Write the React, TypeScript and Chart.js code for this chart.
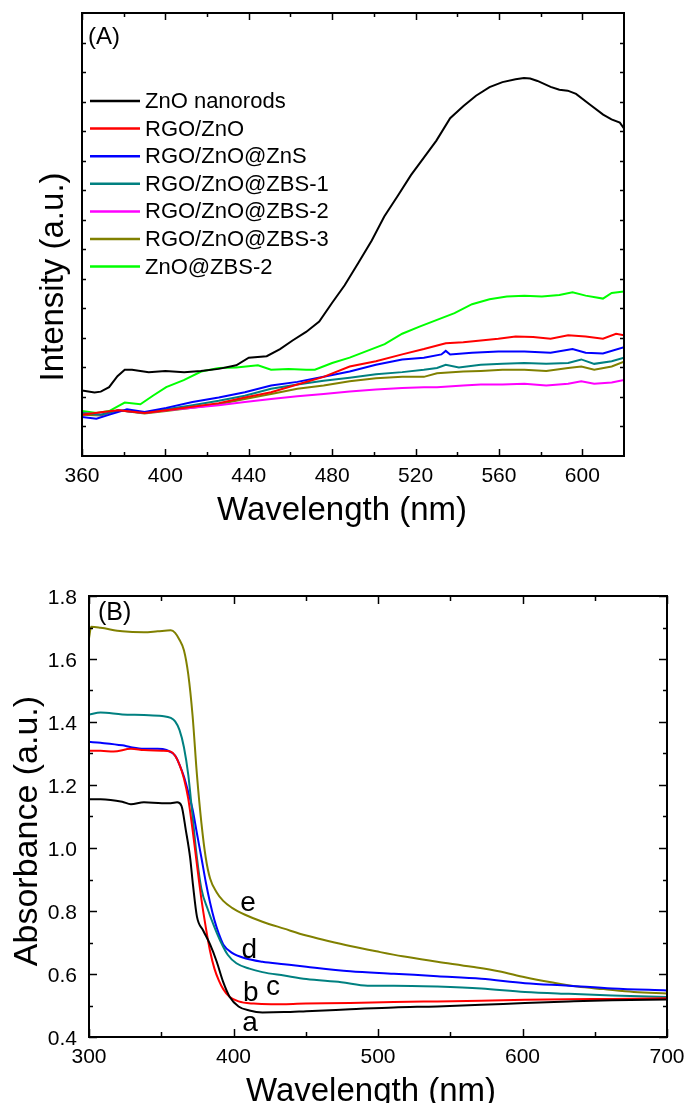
import React, { useEffect, useRef } from 'react';
import { Chart, registerables } from 'chart.js';
Chart.register(...registerables);

const FONT = '"Liberation Sans", Arial, Helvetica, sans-serif';

// ---------- Panel A: PL spectra ----------
const xTicksA = [360, 400, 440, 480, 520, 560, 600];
const xMinorA = [380, 420, 460, 500, 540, 580];
const yTicksA = [1, 2, 3, 4, 5, 6, 7, 8, 9, 10, 11, 12, 13, 14];

const znoX = [360, 366, 369, 373, 377, 380.5, 384, 392, 400, 409, 417, 425.6, 434, 440, 448.6, 455, 461, 467.5, 473.8, 480, 486, 492.6, 499, 505, 511.5, 517.8, 524, 530, 536.6, 543, 549, 555.5, 561.7, 568, 572, 575, 578.5, 584.8, 589, 593, 597, 603.6, 610, 614, 618, 620];
const znoY = [2.22, 2.15, 2.18, 2.33, 2.7, 2.92, 2.92, 2.84, 2.88, 2.84, 2.88, 2.95, 3.07, 3.33, 3.38, 3.62, 3.91, 4.2, 4.55, 5.19, 5.78, 6.54, 7.3, 8.11, 8.81, 9.51, 10.1, 10.68, 11.44, 11.85, 12.2, 12.49, 12.66, 12.76, 12.8, 12.78, 12.7, 12.5, 12.4, 12.37, 12.26, 11.9, 11.56, 11.4, 11.29, 11.09];

const rgoX = [360, 369, 377.4, 390, 400.4, 413, 425.6, 438.1, 450.7, 463.3, 475.9, 488.4, 501, 513.6, 524, 534.5, 542.9, 551.3, 559.7, 568, 576.4, 584.8, 593.2, 601.6, 609.9, 616.2, 620];
const rgoY = [1.4, 1.48, 1.55, 1.46, 1.55, 1.67, 1.79, 1.98, 2.16, 2.42, 2.68, 3.03, 3.21, 3.44, 3.62, 3.82, 3.85, 3.91, 3.97, 4.05, 4.03, 3.97, 4.09, 4.05, 3.97, 4.14, 4.09];

const znsX = [360, 366.9, 373.2, 381.6, 390, 400.4, 413, 425.6, 438.1, 450.7, 463.3, 475.9, 488.4, 501, 513.6, 524, 532.4, 534.5, 536.6, 547.1, 559.7, 572.2, 584.8, 595.3, 601.6, 609.9, 620];
const znsY = [1.32, 1.26, 1.4, 1.58, 1.49, 1.63, 1.83, 1.98, 2.16, 2.39, 2.51, 2.68, 2.86, 3.09, 3.27, 3.33, 3.44, 3.56, 3.44, 3.5, 3.54, 3.54, 3.5, 3.62, 3.5, 3.47, 3.68];

const zbs1X = [360, 369, 377.4, 390, 400.4, 413, 425.6, 438.1, 450.7, 463.3, 475.9, 488.4, 501, 513.6, 524, 530.3, 534.5, 540.8, 551.3, 561.7, 572.2, 582.7, 593.2, 599.5, 605.7, 614.1, 620];
const zbs1Y = [1.46, 1.4, 1.55, 1.46, 1.58, 1.72, 1.87, 2.04, 2.28, 2.42, 2.55, 2.65, 2.77, 2.84, 2.92, 2.98, 3.09, 3.0, 3.09, 3.12, 3.15, 3.12, 3.15, 3.27, 3.12, 3.21, 3.33];

const zbs2X = [360, 369, 377.4, 390, 400.4, 413, 425.6, 438.1, 450.7, 463.3, 475.9, 488.4, 501, 513.6, 524, 530.3, 542.9, 551.3, 561.7, 572.2, 582.7, 593.2, 599.5, 605.7, 614.1, 620];
const zbs2Y = [1.46, 1.4, 1.55, 1.46, 1.55, 1.63, 1.72, 1.83, 1.93, 2.02, 2.1, 2.18, 2.25, 2.3, 2.33, 2.33, 2.39, 2.42, 2.42, 2.45, 2.39, 2.45, 2.53, 2.45, 2.49, 2.57];

const zbs3X = [360, 369, 377.4, 390, 400.4, 413, 425.6, 438.1, 450.7, 463.3, 475.9, 488.4, 501, 513.6, 524, 530.3, 542.9, 551.3, 561.7, 572.2, 582.7, 593.2, 599.5, 605.7, 614.1, 620];
const zbs3Y = [1.4, 1.37, 1.55, 1.44, 1.52, 1.63, 1.75, 1.93, 2.1, 2.28, 2.39, 2.53, 2.63, 2.68, 2.68, 2.8, 2.86, 2.88, 2.92, 2.92, 2.88, 2.98, 3.03, 2.92, 3.03, 3.19];

const znoZbsX = [360, 367, 373, 380.5, 388, 394, 400.4, 408.8, 417.2, 425.6, 434, 444.4, 450.7, 459.1, 467.5, 471.7, 480, 488.4, 496.8, 505.2, 513.6, 521.9, 530.3, 538.7, 547.1, 555.5, 563.8, 572.2, 580.6, 589, 595.3, 601.6, 609.9, 614.1, 620];
const znoZbsY = [1.52, 1.46, 1.52, 1.81, 1.75, 2.04, 2.33, 2.57, 2.86, 2.98, 3.0, 3.07, 2.92, 2.95, 2.92, 2.92, 3.15, 3.33, 3.56, 3.79, 4.14, 4.38, 4.61, 4.84, 5.14, 5.31, 5.4, 5.43, 5.4, 5.45, 5.54, 5.43, 5.33, 5.52, 5.57];

const seriesNamesA = ['ZnO nanorods', 'RGO/ZnO', 'RGO/ZnO@ZnS', 'RGO/ZnO@ZBS-1', 'RGO/ZnO@ZBS-2', 'RGO/ZnO@ZBS-3', 'ZnO@ZBS-2'];
const colorsA = ['#000000', '#ff0000', '#0000ff', '#008080', '#ff00ff', '#808000', '#00ff00'];

// ---------- Panel B: absorbance ----------
const xTicksB = [300, 400, 500, 600, 700];
const xMinorB = [350, 450, 550, 650];
const yTicksB = [0.4, 0.6, 0.8, 1.0, 1.2, 1.4, 1.6, 1.8];
const yMinorB = [0.5, 0.7, 0.9, 1.1, 1.3, 1.5, 1.7];
const yTickLabelsB = ['0.4', '0.6', '0.8', '1.0', '1.2', '1.4', '1.6', '1.8'];

const aX = [300, 308, 323, 329, 338, 350.5, 356.6, 361, 364, 367, 370, 372, 374.7, 379, 383.8, 388.4, 392.9, 397.4, 403.5, 411, 420, 435, 450.4, 480.7, 511, 541, 571.4, 601.7, 632, 662, 700];
const aY = [1.155, 1.155, 1.147, 1.139, 1.145, 1.142, 1.142, 1.145, 1.134, 1.057, 0.969, 0.881, 0.782, 0.738, 0.694, 0.639, 0.574, 0.527, 0.497, 0.484, 0.478, 0.479, 0.482, 0.488, 0.494, 0.497, 0.502, 0.508, 0.513, 0.517, 0.519];

const bX = [300, 308, 317, 329, 338, 350.5, 356.6, 359.6, 362.6, 365.7, 368.7, 371.7, 374.7, 377.8, 380.8, 383.8, 386.8, 389.9, 392.9, 397.4, 403.5, 414, 426, 450, 480.7, 511, 541, 571.4, 601.7, 632, 662, 700];
const bY = [1.309, 1.309, 1.306, 1.315, 1.311, 1.309, 1.306, 1.293, 1.265, 1.221, 1.156, 1.057, 0.947, 0.837, 0.749, 0.672, 0.617, 0.579, 0.552, 0.527, 0.513, 0.506, 0.504, 0.506, 0.508, 0.511, 0.513, 0.515, 0.518, 0.52, 0.521, 0.523];

const cX = [300, 308, 323, 338, 350.5, 356.6, 359.6, 362.6, 365.7, 368.7, 371.7, 374.7, 377.8, 382.3, 386.8, 391.4, 396, 402, 411, 420, 435, 450.4, 474.6, 492.8, 511, 541, 571.4, 601.7, 632, 662, 700];
const cY = [1.424, 1.43, 1.424, 1.422, 1.419, 1.413, 1.402, 1.375, 1.32, 1.232, 1.1, 0.969, 0.87, 0.804, 0.749, 0.7, 0.661, 0.634, 0.617, 0.606, 0.595, 0.584, 0.574, 0.563, 0.563, 0.56, 0.554, 0.543, 0.537, 0.532, 0.527];

const dX = [300, 308, 323, 329, 338, 347.5, 353.6, 359.6, 362.6, 365.7, 368.7, 371.7, 374.7, 377.8, 380.8, 383.8, 386.8, 389.9, 392.9, 399, 408, 420, 435, 450.4, 480.7, 511, 541, 571.4, 601.7, 632, 662, 700];
const dY = [1.337, 1.334, 1.326, 1.32, 1.315, 1.315, 1.311, 1.293, 1.265, 1.227, 1.177, 1.122, 1.046, 0.969, 0.892, 0.826, 0.771, 0.727, 0.694, 0.667, 0.65, 0.639, 0.631, 0.623, 0.609, 0.601, 0.593, 0.585, 0.571, 0.563, 0.554, 0.548];

const eX = [300, 301.5, 308, 323, 338, 347.5, 356.6, 359.6, 362.6, 365.7, 368.7, 371.7, 374.7, 377.8, 380.8, 383.8, 388.4, 392.9, 399, 408, 420, 435, 450.4, 465.5, 480.7, 498.8, 517, 541, 565, 583.5, 601.7, 619.8, 638, 656, 677, 700];
const eY = [1.666, 1.702, 1.699, 1.688, 1.685, 1.688, 1.691, 1.683, 1.661, 1.628, 1.551, 1.419, 1.232, 1.079, 0.969, 0.903, 0.859, 0.832, 0.81, 0.788, 0.766, 0.744, 0.722, 0.705, 0.689, 0.672, 0.656, 0.639, 0.623, 0.609, 0.59, 0.574, 0.56, 0.552, 0.543, 0.538];

const seriesNamesB = ['a', 'b', 'c', 'd', 'e'];
const colorsB = ['#000000', '#ff0000', '#008080', '#0000ff', '#808000'];
const noteXB = [411.5, 412, 427.3, 410.9, 410];
const noteYB = [0.42, 0.514, 0.533, 0.651, 0.8];

const zip = (xs: number[], ys: number[]) => xs.map((x, i) => ({ x, y: ys[i] }));

type Decor = {
  xMajor: number[]; xMinor: number[]; xLabels: string[];
  yMajor: number[]; yMinor: number[]; yLabels: string[] | null;
  xMajorLen: number; xMinorLen: number; yMajorLen: number; yMinorLen: number;
  tickFont: number; xLabelDy: number; yLabelDx: number;
  xTitle: { text: string; x: number; y: number; size: number };
  yTitle: { text: string; x: number; y: number; size: number };
  panel: { text: string; x: number; y: number; size: number };
  legend?: { x1: number; x2: number; tx: number; y0: number; dy: number; size: number };
  notes?: { xs: number[]; ys: number[]; labels: string[]; size: number };
};

function makeDecor(o: Decor) {
  return {
    id: 'decor',
    afterDraw(chart: any) {
      const ctx = chart.ctx as CanvasRenderingContext2D;
      const a = chart.chartArea;
      const xs = chart.scales.x;
      const ys = chart.scales.y;
      ctx.save();
      ctx.strokeStyle = '#000';
      ctx.fillStyle = '#000';
      ctx.lineWidth = 2;
      ctx.strokeRect(a.left, a.top, a.right - a.left, a.bottom - a.top);
      ctx.lineWidth = 1.5;
      const seg = (x1: number, y1: number, x2: number, y2: number) => {
        ctx.beginPath(); ctx.moveTo(x1, y1); ctx.lineTo(x2, y2); ctx.stroke();
      };
      const xt = (vals: number[], len: number) => vals.forEach((v) => {
        const px = Math.round(xs.getPixelForValue(v)) + 0.5;
        seg(px, a.bottom, px, a.bottom - len);
        seg(px, a.top, px, a.top + len);
      });
      const yt = (vals: number[], len: number) => vals.forEach((v) => {
        const py = Math.round(ys.getPixelForValue(v)) + 0.5;
        seg(a.left, py, a.left + len, py);
        seg(a.right, py, a.right - len, py);
      });
      xt(o.xMajor, o.xMajorLen); xt(o.xMinor, o.xMinorLen);
      yt(o.yMajor, o.yMajorLen); yt(o.yMinor, o.yMinorLen);

      ctx.font = `${o.tickFont}px ${FONT}`;
      ctx.textAlign = 'center';
      ctx.textBaseline = 'alphabetic';
      o.xMajor.forEach((v, i) => {
        ctx.fillText(o.xLabels[i], xs.getPixelForValue(v), a.bottom + o.xLabelDy);
      });
      if (o.yLabels) {
        ctx.textAlign = 'right';
        o.yMajor.forEach((v, i) => {
          ctx.fillText(o.yLabels![i], a.left - o.yLabelDx, ys.getPixelForValue(v) + o.tickFont * 0.358);
        });
      }
      // axis titles
      ctx.textAlign = 'center';
      ctx.font = `${o.xTitle.size}px ${FONT}`;
      ctx.fillText(o.xTitle.text, o.xTitle.x, o.xTitle.y);
      ctx.save();
      ctx.translate(o.yTitle.x, o.yTitle.y);
      ctx.rotate(-Math.PI / 2);
      ctx.font = `${o.yTitle.size}px ${FONT}`;
      ctx.fillText(o.yTitle.text, 0, 0);
      ctx.restore();
      // panel label
      ctx.textAlign = 'left';
      ctx.font = `${o.panel.size}px ${FONT}`;
      ctx.fillText(o.panel.text, o.panel.x, o.panel.y);
      // legend
      if (o.legend) {
        const L = o.legend;
        ctx.font = `${L.size}px ${FONT}`;
        ctx.textBaseline = 'middle';
        chart.data.datasets.forEach((ds: any, i: number) => {
          const y = L.y0 + i * L.dy;
          ctx.strokeStyle = ds.borderColor;
          ctx.lineWidth = 2.5;
          seg(L.x1, y, L.x2, y);
          ctx.fillStyle = '#000';
          ctx.fillText(ds.label, L.tx, y + 1);
        });
      }
      if (o.notes) {
        const N = o.notes;
        ctx.font = `${N.size}px ${FONT}`;
        ctx.textAlign = 'center';
        ctx.textBaseline = 'alphabetic';
        ctx.fillStyle = '#000';
        N.labels.forEach((t, i) => {
          ctx.fillText(t, xs.getPixelForValue(N.xs[i]), ys.getPixelForValue(N.ys[i]));
        });
      }
      ctx.restore();
    },
  };
}

const decorA: Decor = {
  xMajor: xTicksA, xMinor: xMinorA, xLabels: xTicksA.map(String),
  yMajor: yTicksA, yMinor: [], yLabels: null,
  xMajorLen: 7, xMinorLen: 4, yMajorLen: 4, yMinorLen: 3,
  tickFont: 21, xLabelDy: 26, yLabelDx: 12,
  xTitle: { text: 'Wavelength (nm)', x: 342, y: 520, size: 33 },
  yTitle: { text: 'Intensity (a.u.)', x: 63, y: 277, size: 33 },
  panel: { text: '(A)', x: 88, y: 44, size: 24 },
  legend: { x1: 90, x2: 140, tx: 145, y0: 101, dy: 27.6, size: 22 },
};

const decorB: Decor = {
  xMajor: xTicksB, xMinor: xMinorB, xLabels: xTicksB.map(String),
  yMajor: yTicksB, yMinor: yMinorB, yLabels: yTickLabelsB,
  xMajorLen: 8, xMinorLen: 5, yMajorLen: 8, yMinorLen: 4,
  tickFont: 21, xLabelDy: 26, yLabelDx: 12,
  xTitle: { text: 'Wavelength (nm)', x: 371, y: 556, size: 33 },
  yTitle: { text: 'Absorbance (a.u.)', x: 37, y: 286, size: 34 },
  panel: { text: '(B)', x: 98, y: 75, size: 25 },
  notes: { xs: noteXB, ys: noteYB, labels: seriesNamesB, size: 28 },
};

function baseOptions(xmin: number, xmax: number, ymin: number, ymax: number, pad: any) {
  return {
    animation: false,
    responsive: false,
    devicePixelRatio: 1,
    layout: { padding: pad },
    plugins: { legend: { display: false }, tooltip: { enabled: false } },
    elements: { point: { radius: 0 } },
    scales: {
      x: { type: 'linear', min: xmin, max: xmax, display: false },
      y: { type: 'linear', min: ymin, max: ymax, display: false },
    },
  };
}

function ChartCanvas({ width, height, config }: { width: number; height: number; config: any }) {
  const ref = useRef<HTMLCanvasElement | null>(null);
  useEffect(() => {
    const c = new Chart(ref.current as HTMLCanvasElement, config);
    return () => c.destroy();
  }, []);
  return <canvas ref={ref} width={width} height={height} style={{ display: 'block', width, height }} />;
}

const configA = {
  type: 'line',
  data: {
    datasets: [
      [znoX, znoY], [rgoX, rgoY], [znsX, znsY], [zbs1X, zbs1Y], [zbs2X, zbs2Y], [zbs3X, zbs3Y], [znoZbsX, znoZbsY],
    ].map(([xs, ys], i) => ({
      label: seriesNamesA[i],
      data: zip(xs, ys),
      borderColor: colorsA[i],
      borderWidth: 2,
      tension: 0,
      fill: false,
    })),
  },
  options: baseOptions(360, 620, 0, 15, { left: 82, top: 13, right: 62, bottom: 89 }),
  plugins: [makeDecor(decorA)],
};

const configB = {
  type: 'line',
  data: {
    datasets: [[aX, aY], [bX, bY], [cX, cY], [dX, dY], [eX, eY]].map(([xs, ys], i) => ({
      label: seriesNamesB[i],
      data: zip(xs, ys),
      borderColor: colorsB[i],
      borderWidth: 2,
      cubicInterpolationMode: 'monotone',
      fill: false,
    })),
  },
  options: baseOptions(300, 700, 0.4, 1.8, { left: 89, top: 51, right: 19, bottom: 66 }),
  plugins: [makeDecor(decorB)],
};

export default function App() {
  return (
    <div style={{ position: 'absolute', left: 0, top: 0, width: 686, height: 1103, overflow: 'hidden', background: '#fff' }}>
      <ChartCanvas width={686} height={545} config={configA} />
      <ChartCanvas width={686} height={558} config={configB} />
    </div>
  );
}
